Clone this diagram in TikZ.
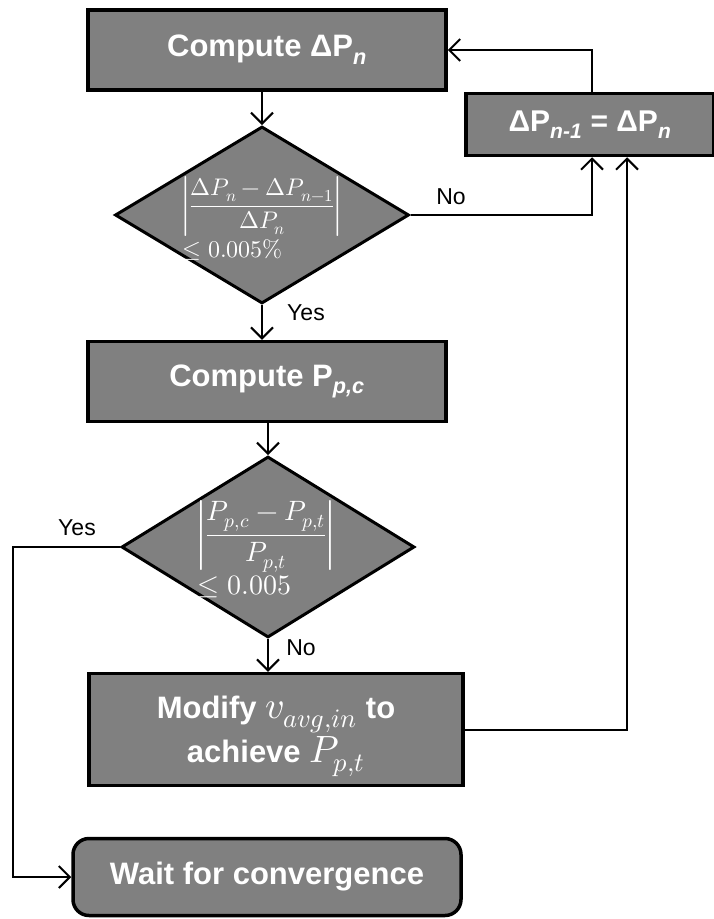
\documentclass[tikz,border=0pt]{standalone}
\usepackage{fontspec}
\usepackage{unicode-math}
\setmainfont{Liberation Sans}
\setmathfont{Latin Modern Math}
\usetikzlibrary{shapes.geometric,arrows.meta}
\definecolor{boxgray}{HTML}{808080}
\newcommand\boxfont{\fontsize{31}{44}\selectfont\bfseries}
\newcommand\tagfont{\fontsize{23}{26}\selectfont}
% larger inline math whose height does not disturb the line spacing
\newcommand\bigmath[1]{{\fontsize{38}{44}\selectfont$\smash{#1}$}}
\tikzset{
  stepbox/.style={draw=black, line width=3.5pt, fill=boxgray, text=white,
    font=\boxfont, inner sep=0pt, align=center},
  test/.style={diamond, draw=black, line width=3pt, fill=boxgray,
    inner sep=0pt},
  testtext/.style={text=white, inner sep=0pt, align=left},
  link/.style={line width=2pt,
    -{Straight Barb[length=11pt,width=22pt,line width=2pt]}},
  tag/.style={font=\tagfont, text=black, inner sep=0pt},
}
\begin{document}
\begin{tikzpicture}[x=1pt,y=-1pt]
\useasboundingbox (0,0) rectangle (714,919);

% process steps
\node[stepbox, minimum width=358pt, minimum height=80pt] (b1) at (267,50)
  {Compute ΔP\textsubscript{\textit{n}}};
\node[stepbox, minimum width=248pt, minimum height=62pt,
  font=\fontsize{30}{34}\selectfont\bfseries] (b2) at (590,124.5)
  {ΔP\textsubscript{\textit{n-1}} = ΔP\textsubscript{\textit{n}}};
\node[stepbox, minimum width=358pt, minimum height=80pt] (b3) at (267,381.5)
  {Compute P\textsubscript{\textit{p,c}}};
\node[stepbox, minimum width=374pt, minimum height=112pt] (b4) at (276,729.5)
  {Modify \bigmath{v_{avg,in}} to\\achieve \bigmath{P_{p,t}}};
\node[stepbox, rounded corners=16pt, minimum width=388pt, minimum height=77pt]
  (b5) at (267,877) {Wait for convergence};

% convergence tests: diamond outlines and their conditions
\node[test, minimum width=294pt, minimum height=177pt] (d1) at (262,215) {};
\node[testtext, font=\fontsize{24}{28}\selectfont] (d1t) at (262,218)
  {$\displaystyle\left|\frac{\Delta P_n-\Delta P_{n-1}}{\Delta P_n}\right|$\\[2pt]
   $\le 0.005\%$};
\node[test, minimum width=293pt, minimum height=181pt] (d2) at (268,547) {};
\node[testtext, font=\fontsize{28}{32}\selectfont] (d2t) at (266,549)
  {$\displaystyle\left|\frac{P_{p,c}-P_{p,t}}{P_{p,t}}\right|$\\[2pt]
   $\le 0.005$};

% branch labels
\node[tag] (l1) at (451,197) {No};
\node[tag] (l2) at (306,313) {Yes};
\node[tag] (l3) at (77,528) {Yes};
\node[tag] (l4) at (301,648) {No};

% connectors
\coordinate (ybend) at (13,547);
\draw[link] (d1.north |- b1.south) -- (d1.north);
\draw[link] (d1.east) -| ([xshift=2pt]b2.south);
\draw[link] ([xshift=2pt]b2.north) |- (b1.east);
\draw[link] (d1.south) -- (d1.south |- b3.north);
\draw[link] (d2.north |- b3.south) -- (d2.north);
\draw[link] (d2.west) -- (ybend) |- (b5.west);
\draw[link] (d2.south) -- (d2.south |- b4.north);
\draw[link] (b4.east) -| ([xshift=37pt]b2.south);
\end{tikzpicture}
\end{document}
